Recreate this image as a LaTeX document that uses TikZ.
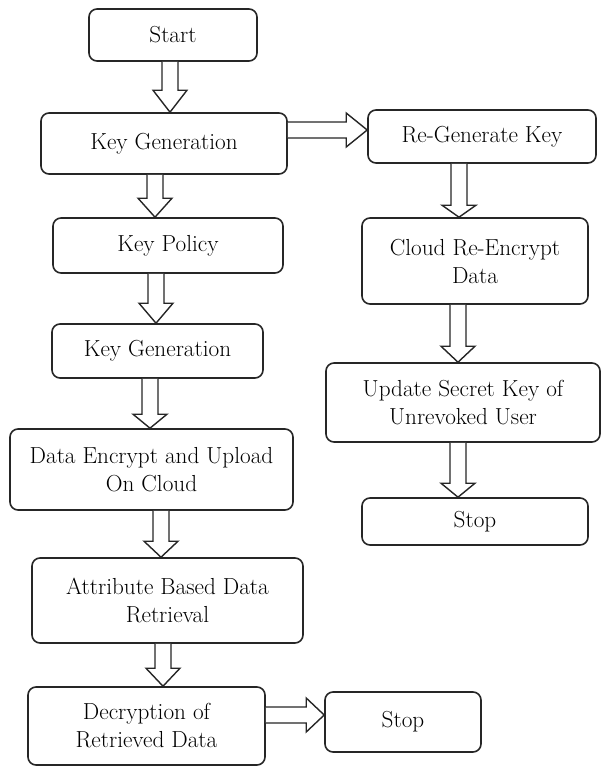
\documentclass[tikz,border=0pt]{standalone}
\usetikzlibrary{calc}
\def\sw{8pt}
\def\hw{17pt}
% vertical block arrow: src, dst, x center (px), head length (px)
\newcommand{\varrow}[4]{%
  \draw[barrow] let \p1=(#1.south), \p2=(#2.north) in
    ({#3pt-\sw},\y1) -- ({#3pt-\sw},{\y2+#4pt}) -- ({#3pt-\hw},{\y2+#4pt}) --
    (#3pt,\y2) -- ({#3pt+\hw},{\y2+#4pt}) -- ({#3pt+\sw},{\y2+#4pt}) -- ({#3pt+\sw},\y1);}
% horizontal block arrow: src, dst, y center (px, downward), head length (px)
\newcommand{\harrow}[4]{%
  \draw[barrow] let \p1=(#1.east), \p2=(#2.west) in
    (\x1,{-#3pt+\sw}) -- ({\x2-#4pt},{-#3pt+\sw}) -- ({\x2-#4pt},{-#3pt+\hw}) --
    (\x2,-#3pt) -- ({\x2-#4pt},{-#3pt-\hw}) -- ({\x2-#4pt},{-#3pt-\sw}) -- (\x1,{-#3pt-\sw});}
\newcommand{\bx}[6]{% name, x1, y1, x2, y2, text
  \node[box, minimum width={(#4-#2)*1pt}, minimum height={(#5-#3)*1pt}] (#1) at ({(#2+#4)/2},{(#3+#5)/2}) {#6};}
\begin{document}
\begin{tikzpicture}[x=1pt,y=-1pt,
  box/.style={draw=black!85, line width=1.6pt, rounded corners=8pt, inner sep=0pt,
    align=center, font=\fontsize{23.2}{28}\selectfont, text=black},
  barrow/.style={draw=black!85, fill=white, line width=1.4pt, line join=miter}]
\useasboundingbox (0,0) rectangle (603,766);
\bx{start}{89}{9}{257}{61}{Start}
\bx{kg1}{41}{113}{287}{174}{Key Generation}
\bx{kp}{53}{218}{283}{273}{Key Policy}
\bx{kg2}{52}{324}{263}{378}{Key Generation}
\bx{de}{10}{429}{293}{510}{Data Encrypt and Upload\\On Cloud}
\bx{ab}{32}{558}{303}{643}{Attribute Based Data\\Retrieval}
\bx{dec}{28}{687}{265}{765}{Decryption of\\Retrieved Data}
\bx{stopa}{325}{692}{481}{752}{Stop}
\bx{regen}{368}{110}{596}{163}{Re-Generate Key}
\bx{cloud}{362}{218}{588}{304}{Cloud Re-Encrypt\\Data}
\bx{upd}{326}{363}{600}{442}{Update Secret Key of\\Unrevoked User}
\bx{stopb}{362}{498}{588}{545}{Stop}
\varrow{start}{kg1}{170}{22}
\varrow{kg1}{kp}{155}{19}
\varrow{kp}{kg2}{156}{20}
\varrow{kg2}{de}{150}{14}
\varrow{de}{ab}{161}{16}
\varrow{ab}{dec}{163}{18}
\varrow{regen}{cloud}{459}{12}
\varrow{cloud}{upd}{458}{16}
\varrow{upd}{stopb}{458}{14}
\harrow{kg1}{regen}{130}{21}
\harrow{dec}{stopa}{715}{18}
\end{tikzpicture}
\end{document}
